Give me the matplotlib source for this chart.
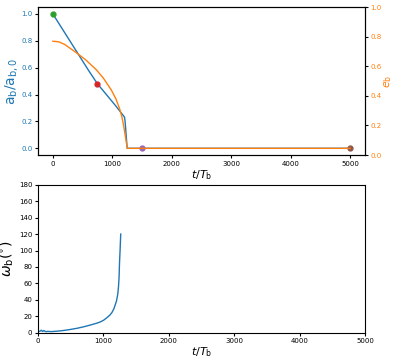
import numpy as np
import matplotlib
matplotlib.use('Agg')
import matplotlib.pyplot as plt

# semi-major axis ratio a_b / a_b,0 vs t/T_b
t_a = [0, 200, 400, 600, 750, 900, 1050, 1205, 1215, 1250, 1260, 5000]
a_b = [1.0, 0.86, 0.72, 0.58, 0.48, 0.40, 0.32, 0.232, 0.20, 0.0, 0.0, 0.0]

# eccentricity e_b (right axis)
t_e = [0, 100, 200, 372, 550, 733, 850, 983, 1060, 1122, 1160, 1190, 1212, 1230, 1245, 1252, 1260, 5000]
e_b = [0.77, 0.766, 0.748, 0.699, 0.645, 0.576, 0.52, 0.44, 0.38, 0.314, 0.26, 0.2, 0.145, 0.1, 0.06, 0.045, 0.045, 0.045]

# marked snapshots
t_mark = [0, 750, 1500, 5000]
a_mark = [1.0, 0.48, 0.0, 0.0]
mark_colors = ['C2', 'C3', 'C4', 'C5']

# argument of pericentre omega_b (deg)
t_w = [0, 30, 50, 70, 90, 120, 150, 200, 300, 400, 500, 600, 700, 800, 900, 950,
       1000, 1050, 1100, 1130, 1160, 1180, 1200, 1220, 1231, 1240, 1246, 1255, 1260, 1265]
w_b = [1.5, 1.8, 3.0, 1.4, 2.6, 1.2, 1.6, 1.3, 1.9, 2.8, 4.0, 5.4, 7.2, 9.3, 11.6, 13.0,
       15.0, 18.0, 21.5, 24.5, 29.0, 33.7, 38.5, 47.0, 56.0, 68.0, 84.0, 100.0, 110.0, 120.0]

fig = plt.figure(figsize=(3.93, 3.63), dpi=100)
ax1 = fig.add_axes([0.0967, 0.573, 0.832, 0.407])
ax2 = fig.add_axes([0.0967, 0.0835, 0.832, 0.4075])

tick_fs = 5
lab_fs = 8

ax1.plot(t_a, a_b, color='C0', lw=1.0)
ax1.set_xlim(-250, 5250)
ax1.set_ylim(-0.05, 1.05)
for tm, am, c in zip(t_mark, a_mark, mark_colors):
    ax1.plot(tm, am, 'o', color=c, ms=3.5, zorder=5)
ax1.set_ylabel(r'$\mathrm{a_b/a_{b,0}}$', color='C0', fontsize=lab_fs + 2, labelpad=1)
ax1.set_xlabel(r'$t/T_{\rm b}$', fontsize=lab_fs, labelpad=1)
ax1.tick_params(axis='y', labelcolor='C0', labelsize=tick_fs, length=2, pad=2)
ax1.tick_params(axis='x', labelsize=tick_fs, length=2, pad=2)

ax1r = ax1.twinx()
ax1r.plot(t_e, e_b, color='C1', lw=1.0)
ax1r.set_ylim(0, 1)
ax1r.set_ylabel(r'$e_{\rm b}$', color='C1', fontsize=lab_fs, labelpad=0)
ax1r.tick_params(axis='y', labelcolor='C1', labelsize=tick_fs, length=2, pad=2)

ax2.plot(t_w, w_b, color='C0', lw=1.0)
ax2.set_xlim(0, 5000)
ax2.set_ylim(0, 180)
ax2.set_yticks(np.arange(0, 181, 20))
ax2.set_xlabel(r'$t/T_{\rm b}$', fontsize=lab_fs, labelpad=1)
ax2.set_ylabel(r'$\omega_{\rm b}(^{\circ})$', fontsize=lab_fs + 2, labelpad=2)
ax2.tick_params(labelsize=tick_fs, length=2, pad=2)

fig.savefig('out.png', dpi=100)
